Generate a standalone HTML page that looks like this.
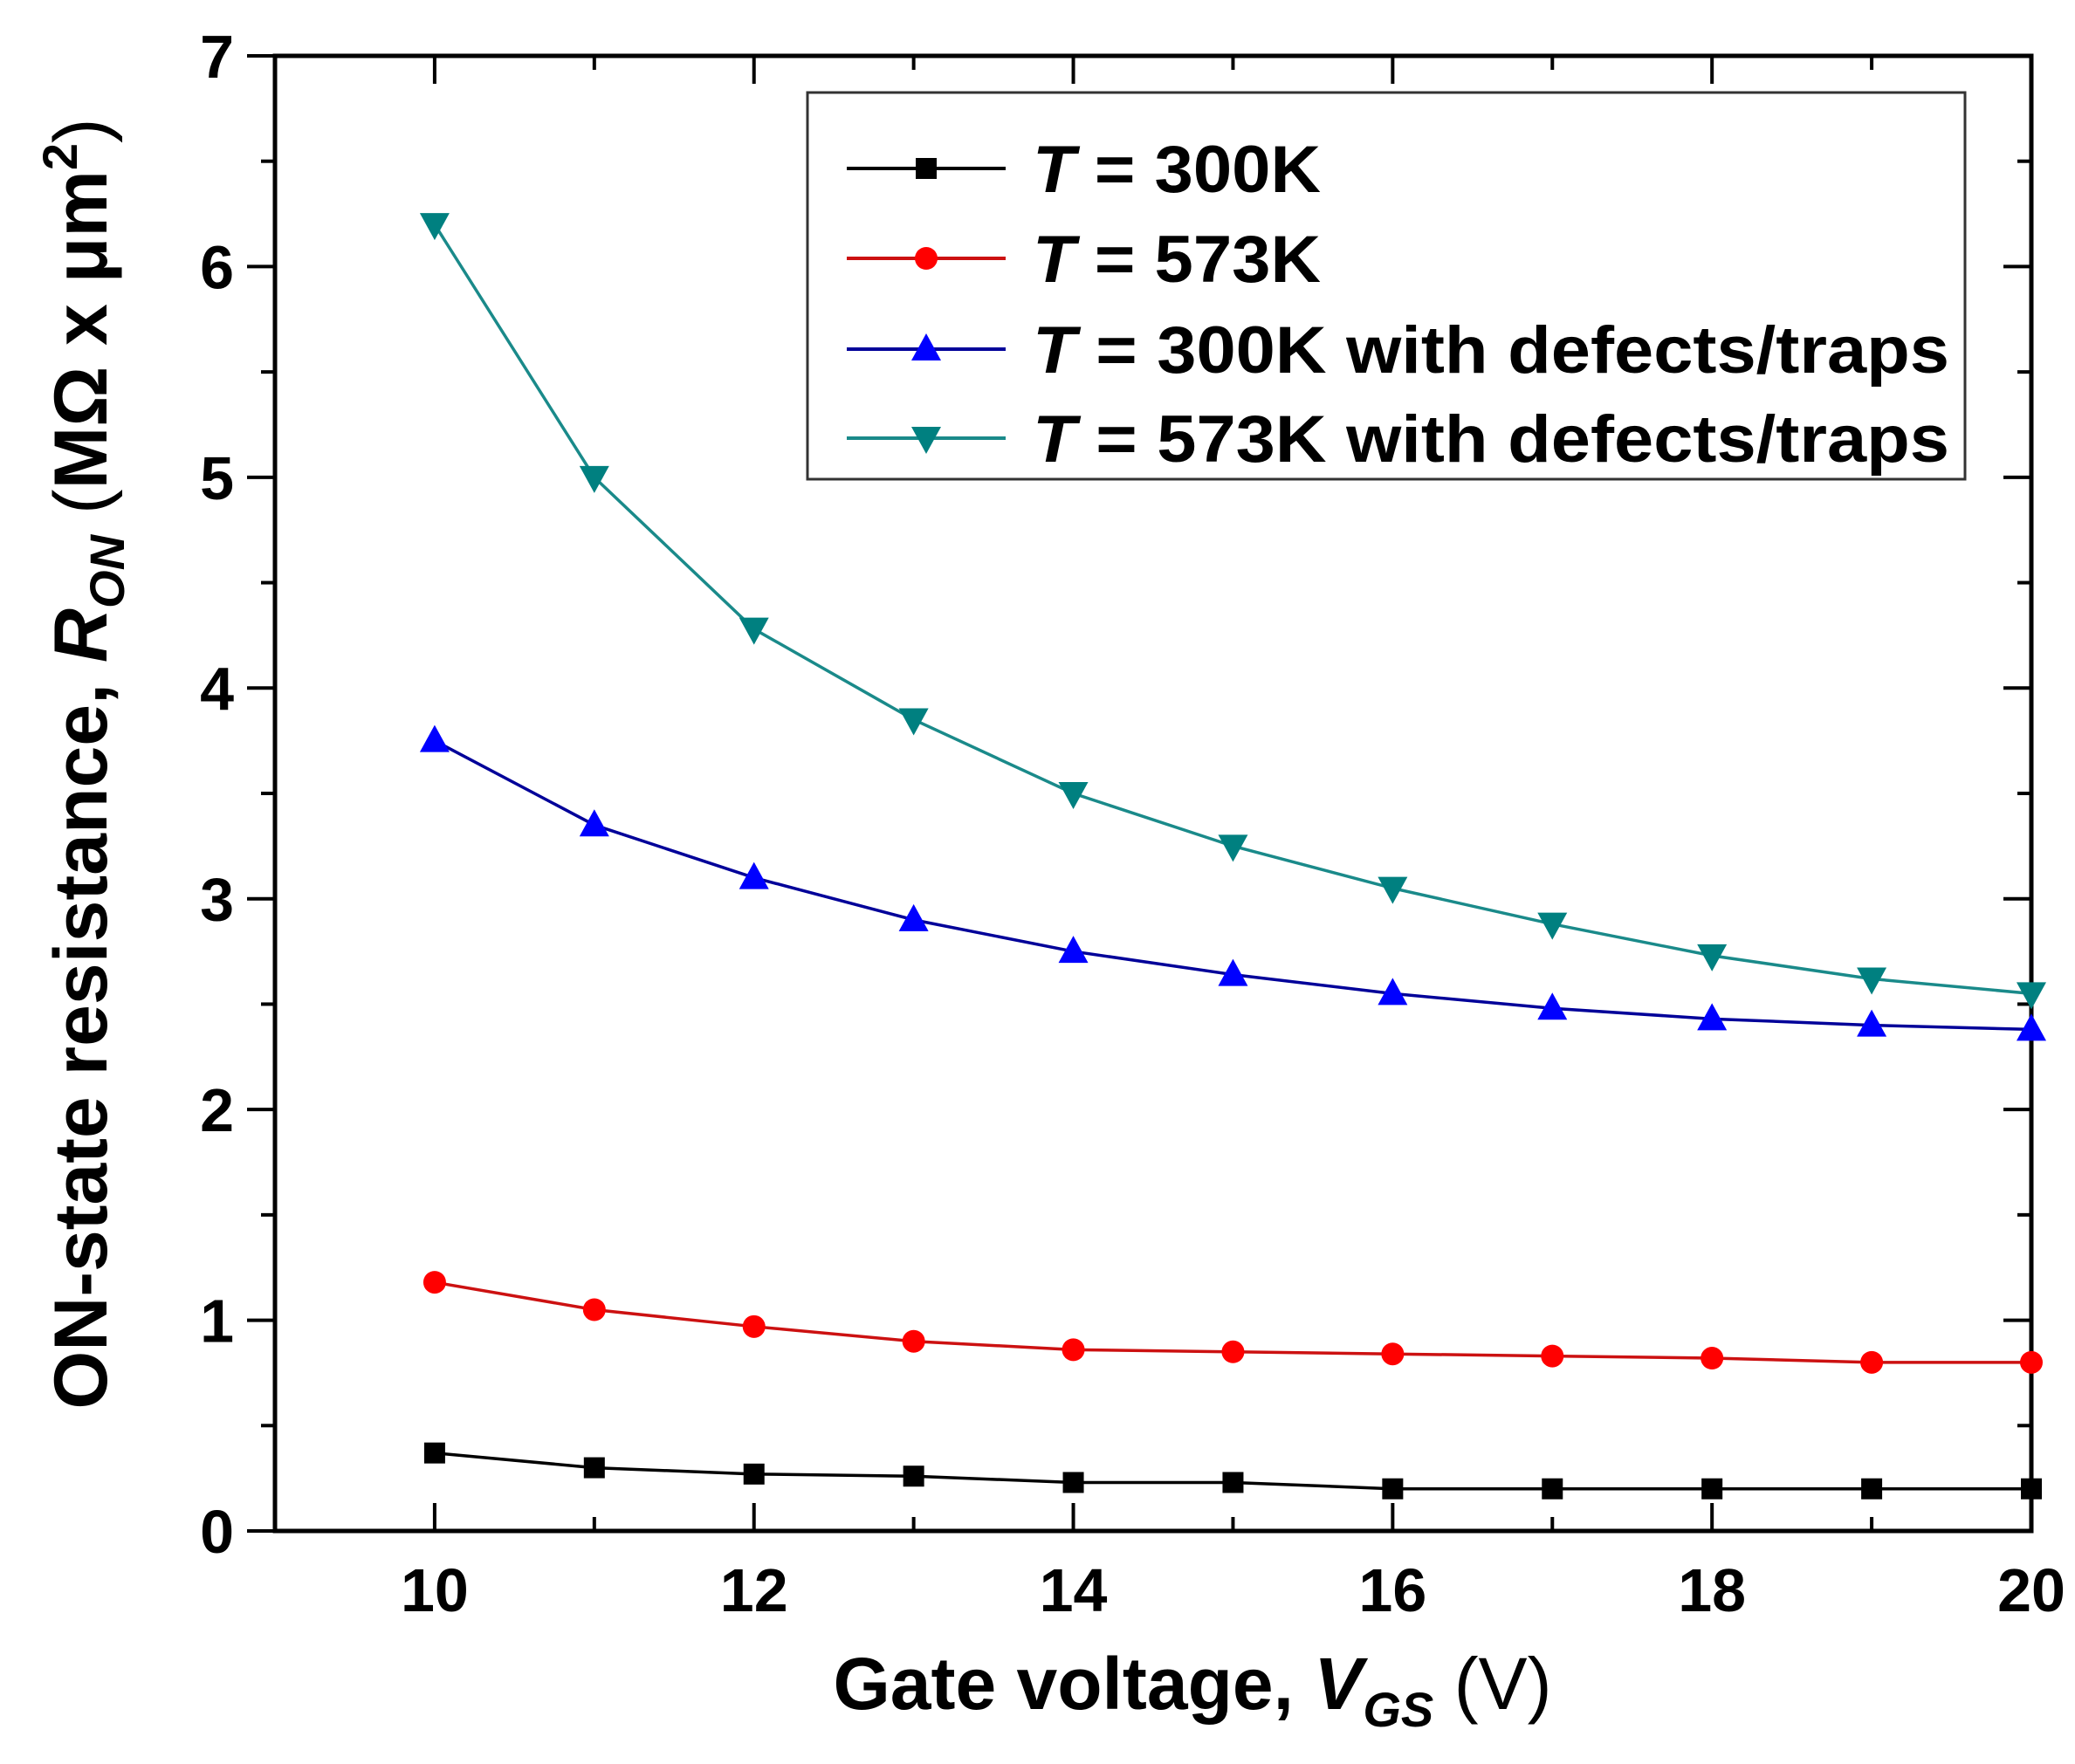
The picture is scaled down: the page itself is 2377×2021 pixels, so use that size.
<!DOCTYPE html>
<html><head><meta charset="utf-8"><style>
html,body{margin:0;padding:0;background:#fff;}
svg{display:block;font-family:"Liberation Sans",Arial,sans-serif;font-weight:bold;}
</style></head><body>
<svg id="chart" width="2377" height="2021" viewBox="0 0 2377 2021" xmlns="http://www.w3.org/2000/svg">
<g id="axes"></g>
<g id="series"></g>
<g id="legend"></g>
</svg>
<script>
const xValues = [10,11,12,13,14,15,16,17,18,19,20];
const seriesT300 = [0.37,0.30,0.27,0.26,0.23,0.23,0.20,0.20,0.20,0.20,0.20];
const seriesT573 = [1.18,1.05,0.97,0.90,0.86,0.85,0.84,0.83,0.82,0.80,0.80];
const seriesT300Traps = [3.75,3.35,3.10,2.90,2.75,2.64,2.55,2.48,2.43,2.40,2.38];
const seriesT573Traps = [6.20,5.00,4.28,3.85,3.50,3.25,3.05,2.88,2.73,2.62,2.55];
const xTickLabels = ["10","12","14","16","18","20"];
const yTickLabels = ["0","1","2","3","4","5","6","7"];
const legendLabels = [" = 300K"," = 573K"," = 300K with defects/traps"," = 573K with defects/traps"];

const NS="http://www.w3.org/2000/svg";
const L=315,R=2327,T=64,B=1754, XMIN=9,XMAX=20,YMIN=0,YMAX=7;
const xs=v=>L+(v-XMIN)/(XMAX-XMIN)*(R-L);
const ys=v=>B-(v-YMIN)/(YMAX-YMIN)*(B-T);
function mk(tag,attrs,parent){const e=document.createElementNS(NS,tag);for(const k in attrs)e.setAttribute(k,attrs[k]);parent.appendChild(e);return e;}
const axes=document.getElementById('axes');
const ser=document.getElementById('series');
const leg=document.getElementById('legend');

const frame=mk('rect',{x:L,y:T,width:R-L,height:B-T,fill:'none',stroke:'#000','stroke-width':5},axes);



for(let v=10;v<=20;v+=1){
  const major=v%2===0, len=major?32:16, x=xs(v);
  const t1=mk('line',{x1:x,x2:x,y1:B,y2:B-len,stroke:'#000','stroke-width':4},axes);
  
  
  const t2=mk('line',{x1:x,x2:x,y1:T,y2:T+len,stroke:'#000','stroke-width':4},axes);
  
  
}
xTickLabels.forEach(s=>{
  const t=mk('text',{x:xs(+s),y:1846,'font-size':70,'text-anchor':'middle'},axes);
  t.textContent=s;
  
  
});
for(let k=0;k<=14;k++){
  const v=k/2, major=k%2===0, len=major?32:16, y=ys(v);
  const t1=mk('line',{x1:L,x2:L-len,y1:y,y2:y,stroke:'#000','stroke-width':4},axes);
  
  
  const t2=mk('line',{x1:R,x2:R-len,y1:y,y2:y,stroke:'#000','stroke-width':4},axes);
  
  
}
yTickLabels.forEach(s=>{
  const t=mk('text',{x:268,y:ys(+s)+25,'font-size':70,'text-anchor':'end'},axes);
  t.textContent=s;
  
  
});
const xt=mk('text',{x:1366,y:1958,'font-size':84,'text-anchor':'middle'},axes);


xt.innerHTML='Gate voltage, <tspan font-style="italic">V</tspan><tspan font-style="italic" font-size="56" dy="20">GS</tspan><tspan dy="-20" font-weight="normal"> (V)</tspan>';
const yt=mk('text',{x:0,y:0,'font-size':86,'text-anchor':'middle',transform:'translate(122,875) rotate(-90)'},axes);


yt.innerHTML='ON-state resistance, <tspan font-style="italic">R</tspan><tspan font-style="italic" font-size="56" dy="20">ON</tspan><tspan dy="-20" font-weight="normal"> (</tspan>MΩ x μm<tspan font-size="56" dy="-34">2</tspan><tspan dy="34" font-weight="normal">)</tspan>';

function marker(shape,x,y,color,parent){
  let e;
  if(shape==='square') e=mk('rect',{x:x-12,y:y-12,width:24,height:24,fill:color},parent);
  else if(shape==='circle') e=mk('circle',{cx:x,cy:y,r:13,fill:color},parent);
  else if(shape==='up') e=mk('polygon',{points:`${x},${y-18} ${x-17},${y+13} ${x+17},${y+13}`,fill:color},parent);
  else e=mk('polygon',{points:`${x},${y+18} ${x-17},${y-13} ${x+17},${y-13}`,fill:color},parent);
  return e;
}
const defs=[
 {name:'t300',vals:seriesT300,color:'#000000',line:'#000000',shape:'square'},
 {name:'t573',vals:seriesT573,color:'#ff0000',line:'#cc1111',shape:'circle'},
 {name:'t300-traps',vals:seriesT300Traps,color:'#0000ff',line:'#000099',shape:'up'},
 {name:'t573-traps',vals:seriesT573Traps,color:'#008080',line:'#1a8a8a',shape:'down'}
];
defs.forEach((d,i)=>{
  const g=mk('g',{},ser);
  
  
  const pts=d.vals.map((v,j)=>xs(xValues[j])+','+ys(v)).join(' ');
  const pl=mk('polyline',{points:pts,fill:'none',stroke:d.line,'stroke-width':3.5},g);
  
  
  d.vals.forEach((v,j)=>{
    const m=marker(d.shape,xs(xValues[j]),ys(v),d.color,g);
    
    
  });
  const ly=[193,296,400,502][i];
  const ll=mk('line',{x1:970,x2:1152,y1:ly,y2:ly,stroke:d.line,'stroke-width':4},leg);
  
  
  const lm=marker(d.shape,1061,ly,d.color,leg);
  
  
  const lt=mk('text',{x:1183,y:ly+27,'font-size':76},leg);
  
  
  lt.innerHTML='<tspan font-style="italic">T</tspan>'+legendLabels[i];
  if(i>=2) lt.setAttribute('textLength',1050);
  else lt.setAttribute('textLength',330);
  lt.setAttribute('lengthAdjust','spacingAndGlyphs');
});
const box=mk('rect',{x:925,y:106,width:1326,height:443,fill:'none',stroke:'#333','stroke-width':3},leg);


</script>
</body></html>
